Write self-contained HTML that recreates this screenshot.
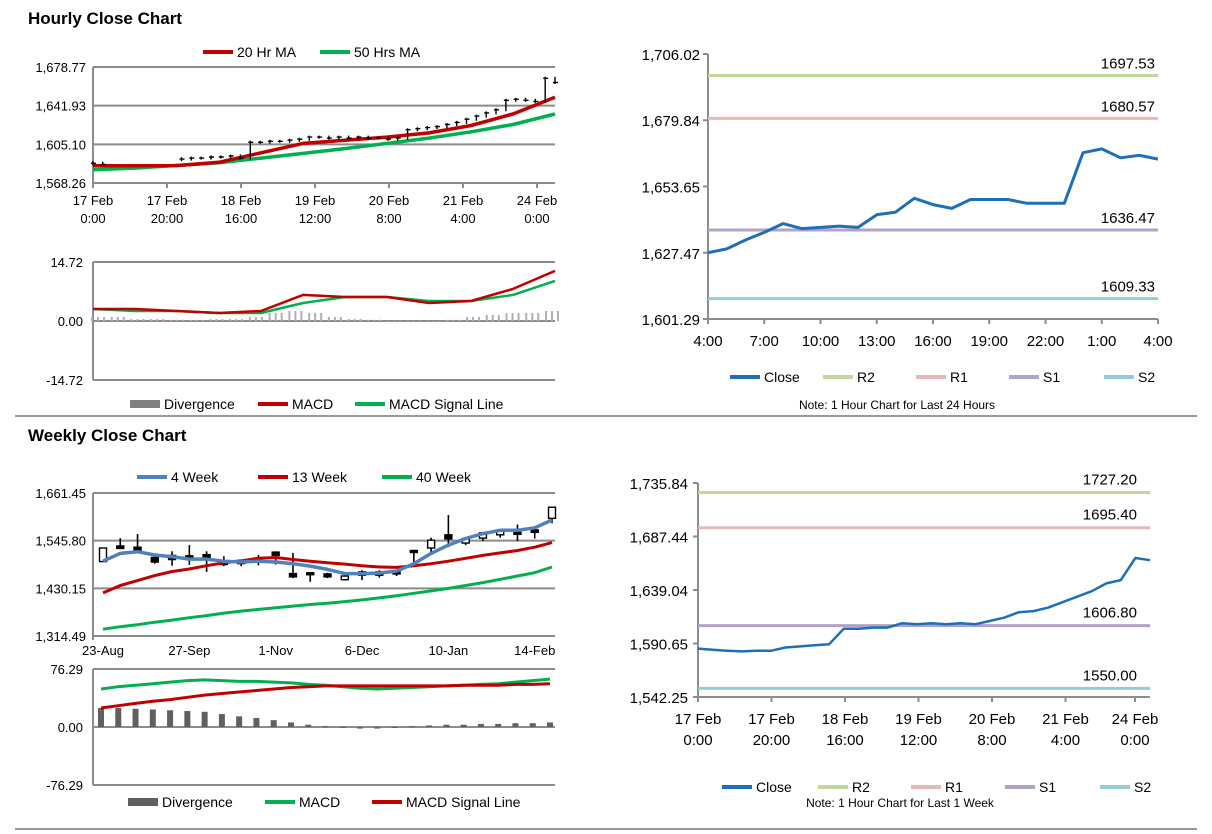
<!DOCTYPE html>
<html><head><meta charset="utf-8"><style>
body{margin:0;background:#fff;width:1212px;height:834px;overflow:hidden}
svg{display:block;font-family:"Liberation Sans",Arial,sans-serif}
</style></head><body>
<svg id="s" width="1212" height="834" viewBox="0 0 1212 834">
<text x="28" y="24" font-size="17" font-weight="bold">Hourly Close Chart</text>
<text x="28" y="441" font-size="17" font-weight="bold">Weekly Close Chart</text>
<line x1="15" y1="416" x2="1197" y2="416" stroke="#999" stroke-width="2"/>
<line x1="15" y1="829" x2="1197" y2="829" stroke="#999" stroke-width="2"/>
</svg>
<script>
// ---- Data ----
const hClose=[1587,1586,null,null,null,null,null,null,null,1591,1592,1592,1593,1593,1594,1592,1607,1607,1608,1608,1609,1610,1612,1612,1611,1612,1611,1612,1611,1611,1610,1611,1619,1620,1621,1622,1624,1626,1629,1632,1635,1638,1647,1648,1647,1646,1668,1664];
const hMA20=[1584.6,1584.6,1584.8,1588,1597,1606,1609,1612,1616,1623,1634,1650];
const hMA50=[1580.8,1582.5,1585,1587.5,1592,1596.5,1601,1606,1611,1617,1624,1634];
const hTicks=["1,678.77","1,641.93","1,605.10","1,568.26"];
const hTickVals=[1678.77,1641.93,1605.10,1568.26];
const hXLabels=[["17 Feb","0:00"],["17 Feb","20:00"],["18 Feb","16:00"],["19 Feb","12:00"],["20 Feb","8:00"],["21 Feb","4:00"],["24 Feb","0:00"]];
const hMacd=[3,3,2.5,2,2.5,6.5,6,6,4.5,5,8,12.5];
const hSignal=[3,2.5,2.5,2,2,4.5,6,6,5,5,6.5,10];
const hDiv=[1,1,0.5,0.5,0.3,0.3,0.5,0.5,1,2,2.5,2,1,0.5,0.3,0,-0.3,0,0.3,1,1.5,2,2,2.5];
const rClose=[1627.5,1629,1632.5,1635.5,1639,1637,1637.5,1638,1637.5,1642.5,1643.5,1649,1646.5,1645,1648.5,1648.5,1648.5,1647,1647,1647,1667,1668.5,1665,1666,1664.5];
const rXLabels=["4:00","7:00","10:00","13:00","16:00","19:00","22:00","1:00","4:00"];
const rTickVals=[1706.02,1679.84,1653.65,1627.47,1601.29];
const rLevels=[1697.53,1680.57,1636.47,1609.33];
const wOpen=[1495,1533,1530,1505,1510,1509,1512,1495,1495,1503,1518,1466,1468,1465,1451,1470,1470,1470,1522,1528,1560,1540,1552,1560,1566,1572,1600];
const wClose=[1528,1527,1520,1494,1500,1507,1503,1488,1492,1498,1510,1458,1466,1458,1460,1462,1462,1465,1518,1547,1550,1551,1565,1570,1564,1566,1627];
const wHigh=[1528,1552,1562,1515,1520,1535,1520,1508,1500,1511,1520,1516,1468,1468,1462,1474,1474,1472,1522,1553,1608,1552,1567,1573,1585,1574,1627];
const wLow=[1494,1525,1516,1490,1485,1487,1470,1484,1484,1486,1488,1455,1446,1455,1449,1450,1456,1460,1490,1517,1530,1535,1545,1553,1545,1551,1588];
const w4=[1496,1515,1519,1511,1507,1501,1501,1496,1494,1496,1494,1490,1484,1476,1466,1466,1467,1472,1490,1515,1535,1551,1563,1571,1571,1577,1596];
const w13=[1419,1437,1449,1461,1471,1477,1485,1492,1497,1503,1505,1500,1496,1492,1489,1485,1482,1481,1485,1490,1496,1503,1510,1516,1522,1530,1541];
const w40=[1331,1337,1342,1348,1353,1359,1364,1370,1375,1379,1383,1387,1391,1394,1398,1402,1407,1412,1418,1424,1430,1437,1444,1452,1460,1468,1482];
const wTickVals=[1661.45,1545.80,1430.15,1314.49];
const wXLabels=["23-Aug","27-Sep","1-Nov","6-Dec","10-Jan","14-Feb"];
const wMacd=[50,53,55,57,59,61,62,61,60,60,59,58,56,55,53,51,50,51,52,53,54,55,56,57,59,61,63];
const wSignal=[25,28,31,34,36,39,42,44,46,48,50,52,53,54,54,54,54,54,54,54,54,55,55,55,56,56,57];
const wDiv=[25,25,24,23,22,21,20,17,14,12,9,6,3,1,-1,-2,-2,-1,1,2,3,3,4,4,5,5,6];
const bClose=[1586,1585,1584,1583.5,1584,1584,1587,1588,1589,1590,1604,1604,1605,1605,1609,1608,1609,1608,1609,1608,1611,1614,1619,1620,1623,1628,1633,1638,1645,1648,1668,1666];
const bXLabels=[["17 Feb","0:00"],["17 Feb","20:00"],["18 Feb","16:00"],["19 Feb","12:00"],["20 Feb","8:00"],["21 Feb","4:00"],["24 Feb","0:00"]];
const bTickVals=[1735.84,1687.44,1639.04,1590.65,1542.25];
const bLevels=[1727.20,1695.40,1606.80,1550.00];

const S=document.getElementById('s');const NS='http://www.w3.org/2000/svg';
function mk(t,a,txt){const e=document.createElementNS(NS,t);for(const k in a)e.setAttribute(k,a[k]);if(txt!==undefined)e.textContent=txt;S.appendChild(e);return e;}
function lin(d0,d1,r0,r1){return v=>r0+(v-d0)*(r1-r0)/(d1-d0);}
function fmt(v){return v.toLocaleString('en-US',{minimumFractionDigits:2,maximumFractionDigits:2});}
function line(xs,ys,arr,col,w,name){let d='';arr.forEach((v,i)=>{if(v===null)return;d+=(d?'L':'M')+xs(i).toFixed(1)+','+ys(v).toFixed(1);});
 const e=mk('path',{d:d,fill:'none',stroke:col,'stroke-width':w,'stroke-linejoin':'round'});
 
 return e;}
function txt(x,y,s,size,anchor,name){const e=mk('text',{x:x,y:y,'font-size':size,'text-anchor':anchor||'start',fill:'#000'},s);
 
 return e;}
function legendLine(x,y,col,label,name,box){let e;
 if(box){e=mk('rect',{x:x,y:y-4,width:30,height:8,fill:col});}else{e=mk('line',{x1:x,y1:y,x2:x+30,y2:y,stroke:col,'stroke-width':4});}
 
 
 txt(x+34,y+5,label,14,'start',name);}
const RED='#c00000',GRN='#00b050',BLU='#4f81bd',CB='#1f6fb5',GR='#8c8c8c';
const LC=['#c3d69b','#e6b9b8','#b3a2c7','#93cddd'];

// ---- Top-left price ----
(function(){const x0=93,x1=555;const y=lin(1568.26,1678.77,183,67);
 hTickVals.forEach((v,i)=>{const g=mk('line',{x1:x0,x2:x1,y1:y(v),y2:y(v),stroke:GR,'stroke-width':2});
  
  
  txt(x0-7,y(v)+5,hTicks[i],13,'end','hourly-y-tick');});
 const ax=mk('line',{x1:x0,x2:x0,y1:67,y2:187,stroke:GR,'stroke-width':2});
 
 
 hXLabels.forEach((l,i)=>{const xx=x0+i*74;const t=mk('line',{x1:xx,x2:xx,y1:183,y2:188,stroke:GR,'stroke-width':2});
  
  
  txt(xx,205,l[0],13,'middle','hourly-x-label');txt(xx,223,l[1],13,'middle','hourly-x-label');});
 const xm=lin(0,hMA20.length-1,x0,x1);
 line(xm,y,hMA50,GRN,3.5,'ma50-line');line(xm,y,hMA20,RED,3.5,'ma20-line');
 const xc=lin(0,hClose.length-1,x0,x1);let d='',prev=null;
 hClose.forEach((v,i)=>{if(v===null){prev=null;return;}const X=xc(i),Y=y(v);
  const top=prev===null?Y-2:Math.min(prev,Y)-1.5,bot=prev===null?Y+2:Math.max(prev,Y)+1.5;
  d+=`M${X.toFixed(1)},${top.toFixed(1)}V${bot.toFixed(1)}M${(X-2).toFixed(1)},${Y.toFixed(1)}H${(X+3).toFixed(1)}`;prev=Y;});
 const c=mk('path',{d:d,stroke:'#000','stroke-width':1.4,fill:'none'});
 
 
 legendLine(203,52,RED,'20 Hr MA','legend-ma20');legendLine(320,52,GRN,'50 Hrs MA','legend-ma50');
})();
// ---- Top-left MACD ----
(function(){const x0=93,x1=555;const y=lin(-14.72,14.72,380,262);
 [[14.72,'14.72'],[0,'0.00'],[-14.72,'-14.72']].forEach(p=>{const g=mk('line',{x1:x0,x2:x1,y1:y(p[0]),y2:y(p[0]),stroke:GR,'stroke-width':2});
  
  
  txt(x0-10,y(p[0])+5,p[1],13,'end','hourly-macd-tick');});
 const ax=mk('line',{x1:x0,x2:x0,y1:262,y2:380,stroke:GR,'stroke-width':2});
 
 
 const xd=lin(0,hDiv.length-1,x0+4,x1-4);
 hDiv.forEach((v,i)=>{for(let k=0;k<3;k++){const X=xd(i)+k*6-6;const r=mk('rect',{x:X,y:Math.min(y(v),y(0)),width:2,height:Math.max(1,Math.abs(y(v)-y(0))),fill:'#b0b0b0'});
  
  }});
 const xm=lin(0,hMacd.length-1,x0,x1);
 line(xm,y,hSignal,GRN,2.5,'hourly-signal-line');line(xm,y,hMacd,RED,2.5,'hourly-macd-line');
 legendLine(130,404,'#808080','Divergence','legend-divergence',true);legendLine(258,404,RED,'MACD','legend-macd');legendLine(355,404,GRN,'MACD Signal Line','legend-signal');
})();
// ---- Top-right ----
(function(){const x0=708,x1=1158;const y=lin(1601.29,1706.02,319,54);
 const ax=mk('path',{d:`M${x0},54V319H${x1}`,stroke:GR,'stroke-width':2,fill:'none'});
 
 
 rTickVals.forEach(v=>{const t=mk('line',{x1:x0-5,x2:x0,y1:y(v),y2:y(v),stroke:GR,'stroke-width':2});
  
  
  txt(x0-8,y(v)+6,fmt(v),15,'end','hourly24-y-label');});
 rXLabels.forEach((l,i)=>{const xx=x0+i*(x1-x0)/8;const t=mk('line',{x1:xx,x2:xx,y1:319,y2:324,stroke:GR,'stroke-width':2});
  
  
  txt(xx,346,l,15,'middle','hourly24-x-label');});
 rLevels.forEach((v,i)=>{const l=mk('line',{x1:x0,x2:x1,y1:y(v),y2:y(v),stroke:LC[i],'stroke-width':3});
  
  
  txt(1155,y(v)-7,v.toFixed(2),15,'end','hourly24-level-label');});
 const xs=lin(0,rClose.length-1,x0,x1);line(xs,y,rClose,CB,3,'hourly24-close-line');
 legendLine(730,377,CB,'Close','legend-close');legendLine(823,377,LC[0],'R2','legend-r2');legendLine(916,377,LC[1],'R1','legend-r1');legendLine(1009,377,LC[2],'S1','legend-s1');legendLine(1104,377,LC[3],'S2','legend-s2');
 txt(897,409,'Note: 1 Hour Chart for Last 24 Hours',12,'middle','hourly24-note');
})();
// ---- Bottom-left weekly ----
(function(){const x0=93,x1=555;const y=lin(1314.49,1661.45,636,493);
 wTickVals.forEach(v=>{const g=mk('line',{x1:x0,x2:x1,y1:y(v),y2:y(v),stroke:GR,'stroke-width':2});
  
  
  txt(x0-7,y(v)+5,fmt(v),13,'end','weekly-y-tick');});
 const ax=mk('line',{x1:x0,x2:x0,y1:493,y2:640,stroke:GR,'stroke-width':2});
 
 
 const xs=lin(0,26,103,552);
 wXLabels.forEach((l,i)=>{txt(xs(i*5),655,l,13,'middle','weekly-x-label');});
 wOpen.forEach((o,i)=>{const c=wClose[i],X=xs(i);const w=mk('line',{x1:X,x2:X,y1:y(wHigh[i]),y2:y(wLow[i]),stroke:'#000','stroke-width':1.6});
  
  
  const up=c>=o;const b=mk('rect',{x:X-3.5,y:y(Math.max(o,c)),width:7,height:Math.max(2,Math.abs(y(o)-y(c))),fill:up?'#fff':'#000',stroke:'#000','stroke-width':1.4});
  
  });
 line(xs,y,w40,GRN,3,'ma40-line');line(xs,y,w13,RED,3,'ma13-line');line(xs,y,w4,BLU,3.5,'ma4-line');
 legendLine(137,477,BLU,'4 Week','legend-4week');legendLine(258,477,RED,'13 Week','legend-13week');legendLine(382,477,GRN,'40 Week','legend-40week');
})();
// ---- Bottom-left MACD ----
(function(){const x0=93,x1=555;const y=lin(-76.29,76.29,785,669);
 [[76.29,'76.29'],[0,'0.00'],[-76.29,'-76.29']].forEach(p=>{const g=mk('line',{x1:x0,x2:x1,y1:y(p[0]),y2:y(p[0]),stroke:GR,'stroke-width':2});
  
  
  txt(x0-10,y(p[0])+5,p[1],13,'end','weekly-macd-tick');});
 const ax=mk('line',{x1:x0,x2:x0,y1:669,y2:785,stroke:GR,'stroke-width':2});
 
 
 const xs=lin(0,26,101,550);
 wDiv.forEach((v,i)=>{const r=mk('rect',{x:xs(i)-3,y:Math.min(y(v),y(0)),width:6,height:Math.max(1,Math.abs(y(v)-y(0))),fill:'#606060'});
  
  });
 line(xs,y,wMacd,GRN,3,'weekly-macd-line');line(xs,y,wSignal,RED,3,'weekly-signal-line');
 legendLine(128,802,'#606060','Divergence','legend-weekly-divergence',true);legendLine(265,802,GRN,'MACD','legend-weekly-macd');legendLine(372,802,RED,'MACD Signal Line','legend-weekly-signal');
})();
// ---- Bottom-right ----
(function(){const x0=698,x1=1150;const y=lin(1542.25,1735.84,697,483);
 const ax=mk('path',{d:`M${x0},483V697H${x1}`,stroke:GR,'stroke-width':2,fill:'none'});
 
 
 bTickVals.forEach(v=>{const t=mk('line',{x1:x0-5,x2:x0,y1:y(v),y2:y(v),stroke:GR,'stroke-width':2});
  
  
  txt(x0-10,y(v)+6,fmt(v),15,'end','weekly1-y-label');});
 bXLabels.forEach((l,i)=>{const xx=i<6?x0+i*73.5:1135;const t=mk('line',{x1:xx,x2:xx,y1:697,y2:702,stroke:GR,'stroke-width':2});
  
  
  txt(xx,724,l[0],15,'middle','weekly1-x-label');txt(xx,745,l[1],15,'middle','weekly1-x-label');});
 bLevels.forEach((v,i)=>{const l=mk('line',{x1:x0,x2:x1,y1:y(v),y2:y(v),stroke:LC[i],'stroke-width':3});
  
  
  txt(1137,y(v)-8,v.toFixed(2),15,'end','weekly1-level-label');});
 const xs=lin(0,bClose.length-1,x0,x1);line(xs,y,bClose,CB,2.5,'weekly1-close-line');
 legendLine(722,787,CB,'Close','legend-w-close');legendLine(818,787,LC[0],'R2','legend-w-r2');legendLine(911,787,LC[1],'R1','legend-w-r1');legendLine(1005,787,LC[2],'S1','legend-w-s1');legendLine(1100,787,LC[3],'S2','legend-w-s2');
 txt(900,807,'Note: 1 Hour Chart for Last 1 Week',12,'middle','weekly1-note');
})();
</script>
</body></html>
